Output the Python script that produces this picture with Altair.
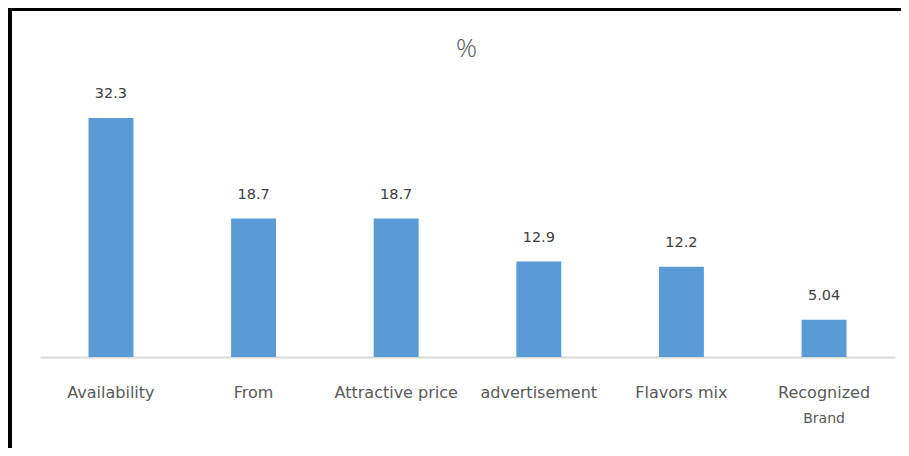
import altair as alt
import pandas as pd

categories = ["Availability", "From", "Attractive price", "advertisement", "Flavors mix", "Recognized"]
second_line = ["", "", "", "", "", "Brand"]
values = [32.3, 18.7, 18.7, 12.9, 12.2, 5.04]
value_labels = ["32.3", "18.7", "18.7", "12.9", "12.2", "5.04"]
title_text = "%"

df = pd.DataFrame({"cat": categories, "line2": second_line, "val": values, "lab": value_labels})

W, H = 855, 259
PL, PT, PR, PB = 32, 90, 6, 91
FONT = "DejaVu Sans"

xenc = alt.X("cat:N", sort=categories,
             scale=alt.Scale(paddingInner=0.685, paddingOuter=0.34),
             axis=alt.Axis(title=None, labels=False, ticks=False, domain=True,
                           domainColor="#D9D9D9", domainWidth=2))
yenc = alt.Y("val:Q", scale=alt.Scale(domain=[0, 35]), axis=None)

base = alt.Chart(df)

bars = base.mark_bar(color="#5B9BD5").encode(x=xenc, y=yenc)

vlabels = base.mark_text(baseline="bottom", dy=-17, fontSize=14.5, font=FONT, color="#404040").encode(
    x=alt.X("cat:N", sort=categories), y=alt.Y("val:Q"), text="lab:N")

cat1 = base.mark_text(baseline="middle", fontSize=16, font=FONT, color="#595959").encode(
    x=alt.X("cat:N", sort=categories), y=alt.value(H + 36), text="cat:N")
cat2 = base.mark_text(baseline="middle", fontSize=14, font=FONT, color="#595959").encode(
    x=alt.X("cat:N", sort=categories), y=alt.value(H + 62), text="line2:N")

one = alt.Chart(pd.DataFrame({"t": [title_text]}))
title = one.mark_text(baseline="middle", fontSize=26, font="Open Sans", fontWeight=300, color="#595959").encode(
    x=alt.value(W / 2 - 1), y=alt.value(-49), text="t:N")

left_border = one.mark_rule(color="#000000", strokeWidth=4).encode(
    x=alt.value(-PL + 2), y=alt.value(-PT), y2=alt.value(H + PB))
top_border = one.mark_rule(color="#000000", strokeWidth=3).encode(
    y=alt.value(-PT + 1.5), x=alt.value(-PL), x2=alt.value(W + PR))

chart = alt.layer(bars, vlabels, cat1, cat2, title, left_border, top_border).properties(
    width=W, height=H,
    autosize=alt.AutoSizeParams(type="none"),
    padding={"left": PL, "top": PT, "right": PR, "bottom": PB},
).configure(background="white", view=alt.ViewConfig(stroke=None))

chart.save("out.html", embed_options={"renderer": "svg", "actions": False})
